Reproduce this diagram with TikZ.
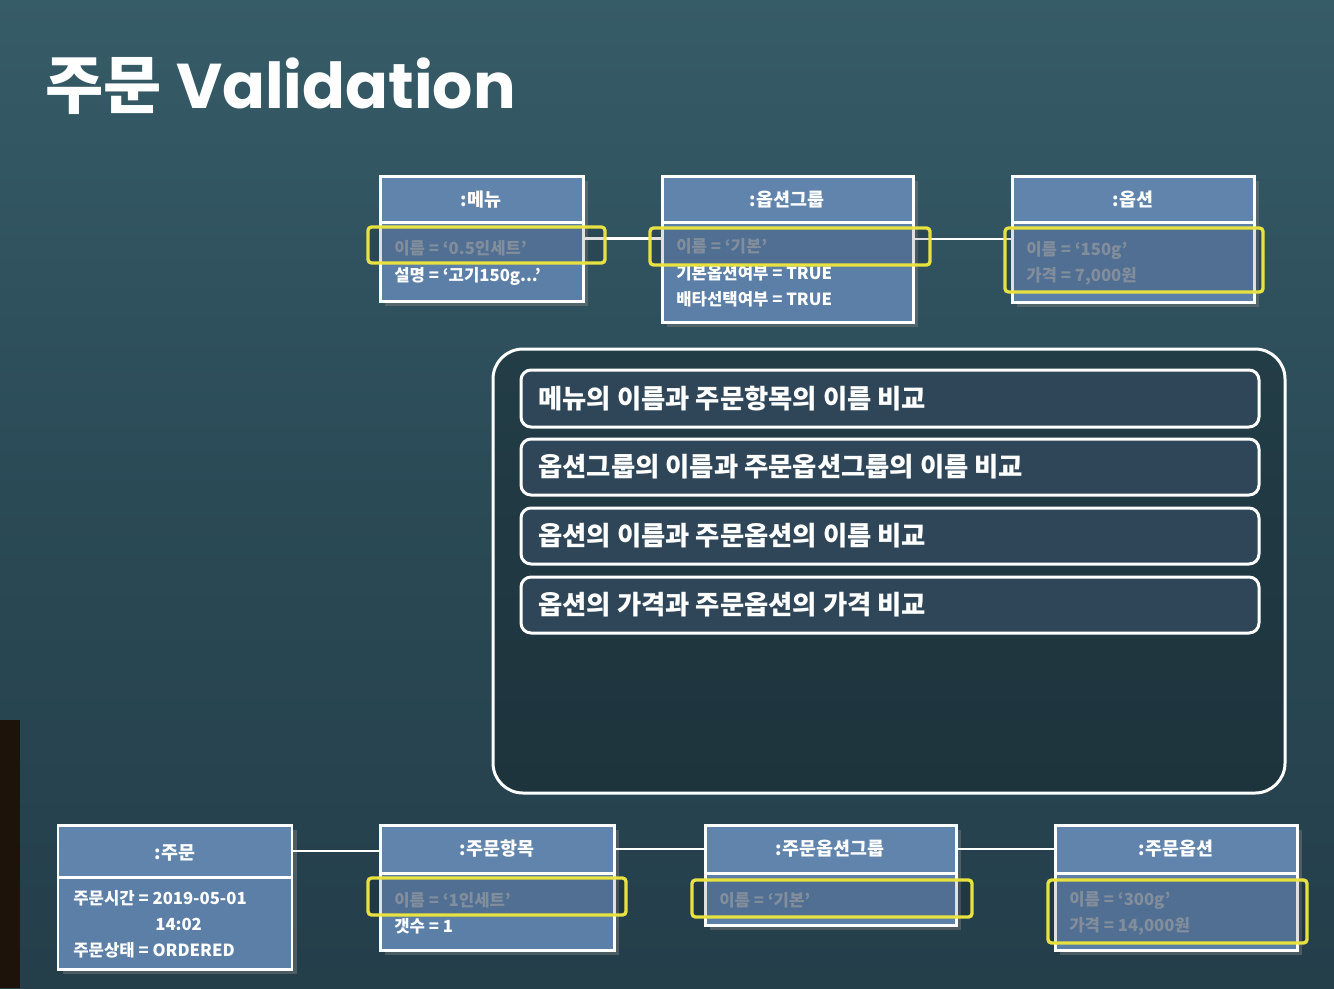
\documentclass[tikz,border=0pt]{standalone}
\usepackage{fontspec}
\setmainfont{Noto Sans CJK KR}
\newfontfamily\latintitle{Poppins}
\usetikzlibrary{positioning,fit,shadows}
\definecolor{bgtop}{RGB}{54,92,104}
\definecolor{bgmid}{RGB}{42,74,86}
\definecolor{bgbot}{RGB}{36,62,74}
\definecolor{objblue}{RGB}{92,127,167}
\definecolor{hdrblue}{RGB}{96,132,172}
\definecolor{rowblue}{RGB}{46,70,88}
\definecolor{hlyellow}{RGB}{232,226,64}
\definecolor{dimtext}{RGB}{150,162,178}
\newcommand\hdrfont{\fontsize{10.5pt}{12pt}\selectfont\bfseries}
\newcommand\attrfont{\fontsize{9.5pt}{11pt}\selectfont\bfseries}
\newcommand\cmpfont{\fontsize{15pt}{18pt}\selectfont\bfseries}
\newcommand\titlefont{\fontsize{36pt}{42pt}\selectfont\bfseries}
\begin{document}
\begin{tikzpicture}[x=0.02cm, y=-0.02cm,
  objbox/.style={draw=white, line width=1.7pt, fill=objblue, inner sep=0pt,
    drop shadow={opacity=0.45, shadow xshift=0.1cm, shadow yshift=-0.1cm}},
  hdr/.style={draw=white, line width=1.7pt, fill=hdrblue, inner sep=0pt},
  hdrtext/.style={anchor=base, inner sep=0pt, text=white, font=\hdrfont},
  attr/.style={anchor=west, inner sep=0pt, text=white, font=\attrfont},
  dim/.style={attr, text=dimtext},
  hilite/.style={draw=hlyellow, line width=1.9pt, rounded corners=2pt, fill=black, fill opacity=0.12, inner sep=0pt},
  panel/.style={draw=white, line width=1.7pt, rounded corners=0.6cm, fill=black, fill opacity=0.22, inner sep=0pt},
  cmprow/.style={draw=white, line width=1.7pt, rounded corners=0.2cm, fill=rowblue, inner sep=0pt},
  cmptext/.style={anchor=west, inner sep=0pt, text=white, font=\cmpfont},
  link/.style={draw=white, line width=1.3pt}]
  \useasboundingbox (0,0) rectangle (1334,988);
  % background
  \shade[top color=bgtop, bottom color=bgbot, middle color=bgmid] (0,0) rectangle (1334,988);
  \fill[black!85!brown] (0,720) rectangle (20,988);
  \node[anchor=west, inner sep=0pt, text=white, font=\titlefont] (title) at (45,86) {주문 {\latintitle Validation}};

  % menu side
  \node[objbox, fit={(380,176) (583,301)}] (menu) {};
  \node[hdr, fit={(380,176) (583,222)}] (menuHdr) {};
  \node[objbox, fit={(662,176) (913,322)}] (optgrp) {};
  \node[hdr, fit={(662,176) (913,222)}] (optgrpHdr) {};
  \node[objbox, fit={(1012,176) (1254,302)}] (opt) {};
  \node[hdr, fit={(1012,176) (1254,222)}] (optHdr) {};
  \node[hdrtext] (menuTitle) at (481,206) {:메뉴};
  \node[hdrtext] (optgrpTitle) at (787,206) {:옵션그룹};
  \node[hdrtext] (optTitle) at (1133,206) {:옵션};
  \draw[link] (menu.east) -- (menu.east -| optgrp.west);
  \draw[link] (optgrp.east |- opt.west) -- (opt.west);

  \node[dim] (menuName) at (394,248) {이름 = `0.5인세트'};
  \node[attr] (menuDesc) at (394,276) {설명 = `고기150g...'};
  \node[dim] (optgrpName) at (676,246) {이름 = `기본'};
  \node[attr] (optgrpDef) at (676,273) {기본옵션여부 = TRUE};
  \node[attr] (optgrpExcl) at (676,299) {배타선택여부 = TRUE};
  \node[dim] (optName) at (1026,250) {이름 = `150g'};
  \node[dim] (optPrice) at (1026,276) {가격 = 7,000원};

  \node[hilite, fit={(368,227) (605,263)}] (hlMenu) {};
  \node[hilite, fit={(650,228) (930,265)}] (hlOptgrp) {};
  \node[hilite, fit={(1005,228) (1263,292)}] (hlOpt) {};

  % comparison panel
  \node[panel, fit={(493,349) (1285,793)}] (cmp) {};
  \node[cmprow, fit={(521,370) (1259,427)}] (row1) {};
  \node[cmprow, fit={(521,439) (1259,495)}] (row2) {};
  \node[cmprow, fit={(521,508) (1259,564)}] (row3) {};
  \node[cmprow, fit={(521,577) (1259,633)}] (row4) {};
  \node[cmptext] (row1txt) at (538,399) {메뉴의 이름과 주문항목의 이름 비교};
  \node[cmptext] (row2txt) at (538,467) {옵션그룹의 이름과 주문옵션그룹의 이름 비교};
  \node[cmptext] (row3txt) at (538,536) {옵션의 이름과 주문옵션의 이름 비교};
  \node[cmptext] (row4txt) at (538,605) {옵션의 가격과 주문옵션의 가격 비교};

  % order side
  \node[objbox, fit={(58,825) (292,969)}] (order) {};
  \node[hdr, fit={(58,825) (292,877)}] (orderHdr) {};
  \node[objbox, fit={(380,825) (614,950)}] (item) {};
  \node[hdr, fit={(380,825) (614,873)}] (itemHdr) {};
  \node[objbox, fit={(705,825) (956,925)}] (ordgrp) {};
  \node[hdr, fit={(705,825) (956,873)}] (ordgrpHdr) {};
  \node[objbox, fit={(1055,825) (1297,950)}] (ordopt) {};
  \node[hdr, fit={(1055,825) (1297,873)}] (ordoptHdr) {};
  \node[hdrtext] (orderTitle) at (175,859) {:주문};
  \node[hdrtext] (itemTitle) at (497,855) {:주문항목};
  \node[hdrtext] (ordgrpTitle) at (830,855) {:주문옵션그룹};
  \node[hdrtext] (ordoptTitle) at (1176,855) {:주문옵션};
  \draw[link] (orderHdr.east) -- (orderHdr.east -| itemHdr.west);
  \draw[link] (itemHdr.east) -- (itemHdr.east -| ordgrpHdr.west);
  \draw[link] (ordgrpHdr.east) -- (ordgrpHdr.east -| ordoptHdr.west);

  \node[attr] (orderTime) at (73,898) {주문시간 = 2019-05-01};
  \node[attr] (orderTime2) at (155,924) {14:02};
  \node[attr] (orderState) at (73,950) {주문상태 = ORDERED};
  \node[dim] (itemName) at (394,900) {이름 = `1인세트'};
  \node[attr] (itemCount) at (394,926) {갯수 = 1};
  \node[dim] (ordgrpName) at (719,900) {이름 = `기본'};
  \node[dim] (ordoptName) at (1069,900) {이름 = `300g'};
  \node[dim] (ordoptPrice) at (1069,926) {가격 = 14,000원};

  \node[hilite, fit={(368,878) (626,915)}] (hlItem) {};
  \node[hilite, fit={(692,880) (972,917)}] (hlOrdgrp) {};
  \node[hilite, fit={(1048,880) (1307,943)}] (hlOrdopt) {};
\end{tikzpicture}
\end{document}
